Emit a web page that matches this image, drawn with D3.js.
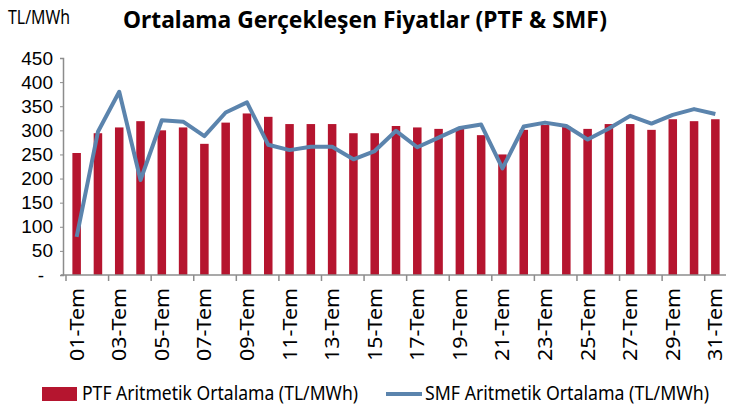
<!DOCTYPE html>
<html>
<head>
<meta charset="utf-8">
<script src="https://cdn.jsdelivr.net/npm/d3@7"></script>
<style>
  body { margin: 0; background: #fff; }
  svg { font-family: "Noto Sans", sans-serif; }
</style>
</head>
<body>
<div id="chart"></div>
<script>
// günler
const days = d3.range(1, 32).map(d => String(d).padStart(2, "0") + "-Tem");
// PTF aritmetik ortalama (TL/MWh)
const ptf = [253, 294, 306, 319, 300, 306, 272, 316, 335, 328,
             313, 313, 313, 294, 294, 309, 306, 303, 303, 290,
             250, 301, 311, 308, 303, 313, 313, 301, 323, 319, 323];
// SMF aritmetik ortalama (TL/MWh)
const smf = [79, 297, 380, 197, 321, 318, 288, 337, 358, 270,
             259, 266, 266, 240, 257, 299, 265, 285, 305, 312,
             221, 308, 316, 309, 281, 304, 330, 314, 332, 344, 334];
const yTicks = [0, 50, 100, 150, 200, 250, 300, 350, 400, 450];

const width = 733, height = 410;
const svg = d3.select("#chart").append("svg")
  .attr("width", width).attr("height", height);

const x = d3.scaleBand().domain(days).range([66, 726]).paddingInner(0.6).paddingOuter(0.3);
const y = d3.scaleLinear().domain([0, 450]).range([275, 58]);

// başlık
svg.append("text")
  .attr("x", 123).attr("y", 28)
  .attr("font-size", 24).attr("font-weight", "bold")
  .attr("textLength", 484).attr("lengthAdjust", "spacingAndGlyphs")
  .text("Ortalama Gerçekleşen Fiyatlar (PTF & SMF)");

svg.append("text")
  .attr("x", 8).attr("y", 24)
  .attr("font-size", 20)
  .attr("textLength", 62).attr("lengthAdjust", "spacingAndGlyphs")
  .text("TL/MWh");

// çubuklar
svg.append("g").selectAll("rect")
  .data(ptf)
  .join("rect")
  .attr("x", (d, i) => x(days[i]))
  .attr("y", d => y(d))
  .attr("width", x.bandwidth())
  .attr("height", d => y(0) - y(d))
  .attr("fill", "#b5152f");

// eksenler
const yAxis = svg.append("g")
  .attr("transform", "translate(63,0)")
  .call(d3.axisLeft(y).tickValues(yTicks).tickSize(3).tickPadding(7)
    .tickFormat(d => d === 0 ? "-" : d));
yAxis.select(".domain").attr("stroke", "#8c8c8c").attr("stroke-width", 1.5);
yAxis.selectAll(".tick line").attr("stroke", "#8c8c8c");
yAxis.selectAll("text").attr("font-size", 19).attr("fill", "#000");
yAxis.selectAll(".tick").filter(d => d === 0).select("text").attr("dx", -9);

const xAxis = svg.append("g")
  .attr("transform", "translate(0,275)");
xAxis.append("line")
  .attr("x1", 61).attr("x2", 726)
  .attr("stroke", "#8c8c8c").attr("stroke-width", 1.5);
xAxis.selectAll("line.tk")
  .data(d3.range(0, 31, 2))
  .join("line")
  .attr("class", "tk")
  .attr("x1", i => x(days[i]) - x.step() * x.paddingInner() / 2)
  .attr("x2", i => x(days[i]) - x.step() * x.paddingInner() / 2)
  .attr("y1", 0).attr("y2", 6)
  .attr("stroke", "#8c8c8c").attr("stroke-width", 1.5);
xAxis.selectAll("text")
  .data(days.filter((d, i) => i % 2 === 0))
  .join("text")
  .attr("transform", d => `translate(${x(d) + x.bandwidth() / 2},13) rotate(-90)`)
  .attr("text-anchor", "end")
  .attr("dy", "0.35em")
  .attr("font-size", 20)
  .attr("textLength", 73).attr("lengthAdjust", "spacingAndGlyphs")
  .text(d => d);

// SMF çizgisi
const line = d3.line()
  .x((d, i) => x(days[i]) + x.bandwidth() / 2)
  .y(d => y(d));
svg.append("path")
  .datum(smf)
  .attr("d", line)
  .attr("fill", "none")
  .attr("stroke", "#5b84ad")
  .attr("stroke-width", 4)
  .attr("stroke-linejoin", "round");

// lejant
const leg = svg.append("g").attr("transform", "translate(0,393)");
leg.append("rect").attr("x", 42).attr("y", -6).attr("width", 35).attr("height", 14).attr("fill", "#b5152f");
leg.append("text").attr("x", 82).attr("y", 7).attr("font-size", 19)
  .attr("textLength", 276).attr("lengthAdjust", "spacingAndGlyphs")
  .text("PTF Aritmetik Ortalama (TL/MWh)");
leg.append("line").attr("x1", 386).attr("x2", 422).attr("y1", 1).attr("y2", 1)
  .attr("stroke", "#5b84ad").attr("stroke-width", 4);
leg.append("text").attr("x", 425).attr("y", 7).attr("font-size", 19)
  .attr("textLength", 284).attr("lengthAdjust", "spacingAndGlyphs")
  .text("SMF Aritmetik Ortalama (TL/MWh)");
</script>
</body>
</html>
